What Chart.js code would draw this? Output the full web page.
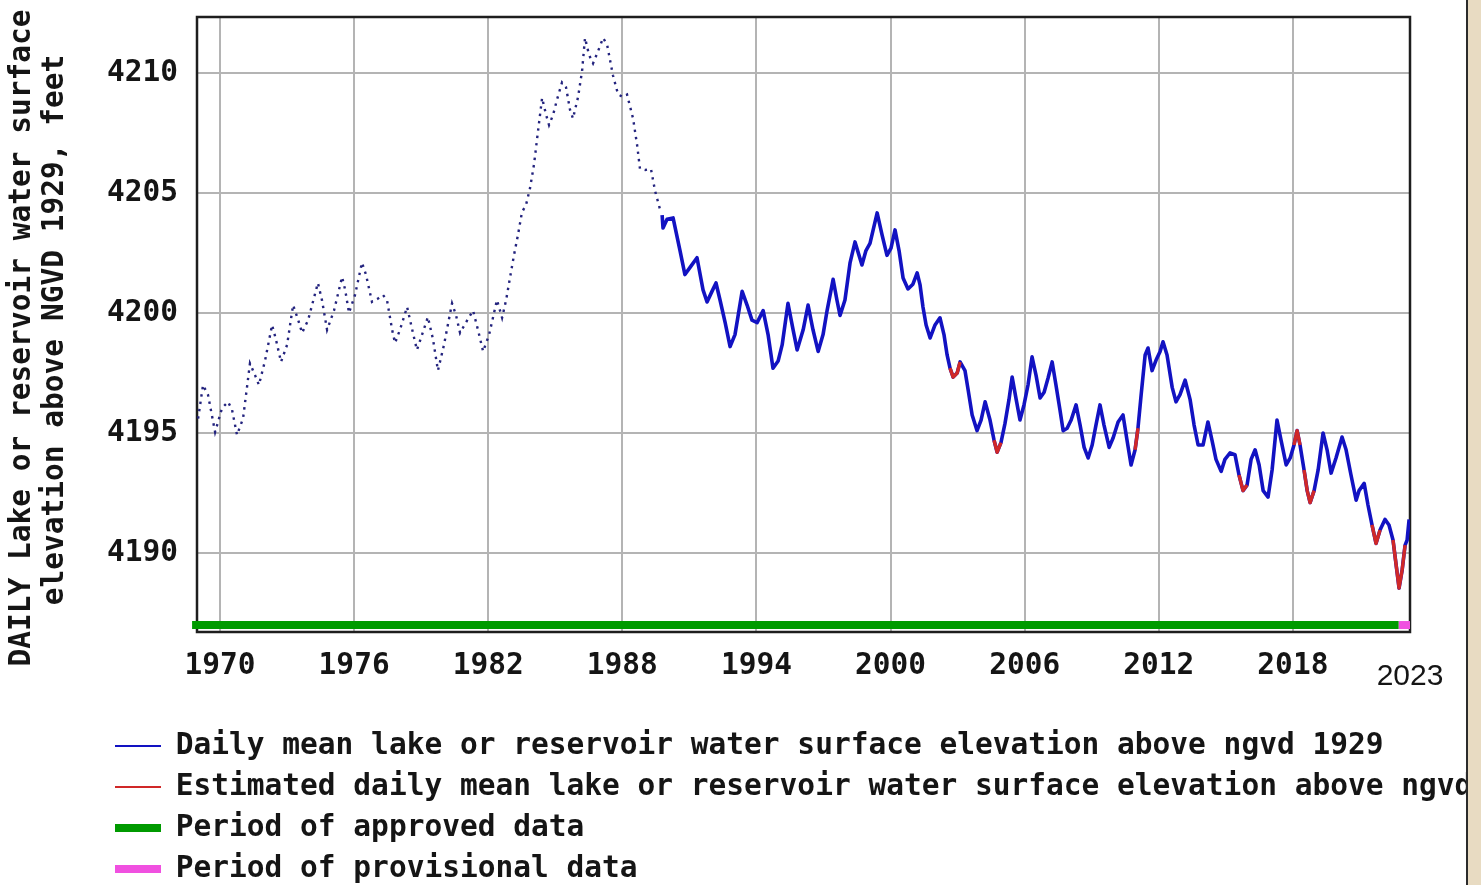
<!DOCTYPE html>
<html>
<head>
<meta charset="utf-8">
<script src="https://cdn.jsdelivr.net/npm/chart.js@4.4.1/dist/chart.umd.min.js"></script>
<style>
  html, body { margin: 0; padding: 0; background: #fff; }
  #wrap { position: relative; width: 1481px; height: 885px; }
  #edge { position: absolute; left: 1466px; top: 0; width: 15px; height: 885px;
          background: #e8dbc2; border-left: 2px solid #2b2b2b; box-sizing: border-box; }
</style>
</head>
<body>
<div id="wrap"><canvas id="chart"></canvas><div id="edge"></div></div>
<script>
const mono = '"DejaVu Sans Mono", "Liberation Mono", monospace';

// early record (sparse readings, drawn dotted)
const dotYears = [1969.02, 1969.24, 1969.46, 1969.78, 1970.09, 1970.36, 1970.54, 1970.76, 1971.03, 1971.34,
  1971.57, 1971.74, 1972.01, 1972.33, 1972.5, 1972.73, 1973.0, 1973.27, 1973.5, 1973.67,
  1973.94, 1974.38, 1974.56, 1974.79, 1975.1, 1975.46, 1975.6, 1975.77, 1976.04, 1976.35,
  1976.53, 1976.8, 1977.07, 1977.29, 1977.47, 1977.7, 1977.83, 1978.05, 1978.37, 1978.6,
  1978.81, 1979.04, 1979.3, 1979.53, 1979.75, 1980.02, 1980.38, 1980.56, 1980.74, 1981.0,
  1981.32, 1981.54, 1981.77, 1982.04, 1982.39, 1982.62, 1982.8, 1982.98, 1983.15, 1983.33,
  1983.51, 1983.69, 1983.87, 1984.05, 1984.23, 1984.41, 1984.59, 1984.72, 1984.9, 1985.08,
  1985.3, 1985.48, 1985.66, 1985.79, 1986.02, 1986.2, 1986.33, 1986.51, 1986.69, 1986.91,
  1987.14, 1987.32, 1987.58, 1987.81, 1988.03, 1988.21, 1988.48, 1988.66, 1988.79, 1989.02,
  1989.28, 1989.46, 1989.69];
const dotLevels = [4195.6, 4197.0, 4196.6, 4195.04, 4196.04, 4196.3, 4195.96, 4194.92, 4195.6, 4197.9,
  4197.4, 4197.0, 4198.0, 4199.5, 4198.9, 4197.96, 4198.67, 4200.33, 4199.7, 4199.17,
  4199.7, 4201.25, 4200.54, 4199.3, 4200.1, 4201.5, 4200.96, 4200.0, 4200.75, 4202.1,
  4201.6, 4200.46, 4200.6, 4200.75, 4200.54, 4199.3, 4198.75, 4199.3, 4200.25, 4199.3,
  4198.46, 4199.1, 4199.83, 4198.9, 4197.6, 4198.67, 4200.4, 4199.9, 4199.17, 4199.6,
  4200.1, 4199.3, 4198.4, 4199.1, 4200.54, 4199.8, 4200.54, 4201.5, 4202.4, 4203.25,
  4204.2, 4204.5, 4205.2, 4206.2, 4207.6, 4208.96, 4208.25, 4207.83, 4208.25, 4208.9,
  4209.6, 4209.4, 4208.46, 4208.1, 4209.0, 4210.1, 4211.46, 4210.75, 4210.4, 4210.9,
  4211.46, 4211.17, 4209.9, 4209.1, 4209.0, 4209.1, 4208.1, 4207.0, 4206.0, 4205.96,
  4206.0, 4205.1, 4204.3];

// daily mean record
const dailyYears = [1989.78, 1989.82, 1990.0, 1990.27, 1990.58, 1990.8, 1991.03, 1991.34, 1991.61, 1991.79,
  1992.01, 1992.19, 1992.37, 1992.6, 1992.82, 1993.04, 1993.36, 1993.58, 1993.8, 1994.03,
  1994.3, 1994.52, 1994.74, 1994.97, 1995.15, 1995.41, 1995.64, 1995.82, 1996.09, 1996.31,
  1996.53, 1996.76, 1996.98, 1997.16, 1997.43, 1997.6, 1997.74, 1997.96, 1998.19, 1998.41,
  1998.59, 1998.72, 1998.9, 1999.08, 1999.4, 1999.62, 1999.84, 2000.02, 2000.2, 2000.38,
  2000.56, 2000.78, 2001.0, 2001.19, 2001.32, 2001.45, 2001.59, 2001.77, 2001.99, 2002.21,
  2002.39, 2002.53, 2002.66, 2002.8, 2002.98, 2003.11, 2003.33, 2003.47, 2003.65, 2003.87,
  2004.05, 2004.23, 2004.45, 2004.63, 2004.77, 2004.94, 2005.12, 2005.3, 2005.44, 2005.62,
  2005.79, 2005.97, 2006.15, 2006.33, 2006.51, 2006.69, 2006.87, 2007.05, 2007.23, 2007.4,
  2007.58, 2007.72, 2007.9, 2008.08, 2008.3, 2008.48, 2008.66, 2008.84, 2009.02, 2009.19,
  2009.37, 2009.55, 2009.78, 2009.96, 2010.18, 2010.4, 2010.58, 2010.76, 2010.94, 2011.07,
  2011.21, 2011.39, 2011.52, 2011.7, 2011.88, 2012.06, 2012.19, 2012.37, 2012.6, 2012.77,
  2012.95, 2013.18, 2013.4, 2013.58, 2013.76, 2013.98, 2014.2, 2014.38, 2014.56, 2014.79,
  2014.96, 2015.19, 2015.41, 2015.59, 2015.77, 2015.95, 2016.13, 2016.31, 2016.49, 2016.67,
  2016.89, 2017.07, 2017.29, 2017.47, 2017.7, 2017.88, 2018.05, 2018.19, 2018.32, 2018.5,
  2018.64, 2018.77, 2018.95, 2019.13, 2019.35, 2019.53, 2019.71, 2019.93, 2020.2, 2020.38,
  2020.6, 2020.83, 2020.96, 2021.19, 2021.36, 2021.54, 2021.72, 2021.9, 2022.12, 2022.3,
  2022.48, 2022.62, 2022.75, 2022.89, 2023.02, 2023.11, 2023.2];
const dailyLevels = [4204.08, 4203.54, 4203.9, 4203.96, 4202.6, 4201.6, 4201.9, 4202.3, 4200.96, 4200.46,
  4200.9, 4201.25, 4200.54, 4199.6, 4198.6, 4199.1, 4200.9, 4200.33, 4199.7, 4199.6,
  4200.1, 4199.1, 4197.7, 4198.0, 4198.67, 4200.4, 4199.3, 4198.46, 4199.3, 4200.33,
  4199.3, 4198.4, 4199.1, 4200.1, 4201.4, 4200.54, 4199.9, 4200.54, 4202.1, 4202.96,
  4202.4, 4202.0, 4202.6, 4202.9, 4204.17, 4203.25, 4202.4, 4202.7, 4203.46, 4202.6,
  4201.46, 4201.0, 4201.2, 4201.67, 4201.17, 4200.25, 4199.5, 4198.96, 4199.5, 4199.8,
  4199.1, 4198.25, 4197.7, 4197.33, 4197.5, 4197.96, 4197.6, 4196.8, 4195.75, 4195.1,
  4195.54, 4196.3, 4195.54, 4194.7, 4194.2, 4194.6, 4195.4, 4196.4, 4197.33, 4196.4,
  4195.54, 4196.17, 4197.0, 4198.17, 4197.4, 4196.46, 4196.7, 4197.3, 4197.96, 4197.0,
  4195.96, 4195.1, 4195.2, 4195.54, 4196.17, 4195.33, 4194.4, 4193.96, 4194.5, 4195.33,
  4196.17, 4195.33, 4194.4, 4194.8, 4195.46, 4195.75, 4194.7, 4193.67, 4194.3, 4195.2,
  4196.58, 4198.25, 4198.54, 4197.6, 4198.04, 4198.4, 4198.8, 4198.25, 4196.9, 4196.3,
  4196.6, 4197.2, 4196.4, 4195.33, 4194.5, 4194.5, 4195.46, 4194.7, 4193.9, 4193.4,
  4193.9, 4194.17, 4194.1, 4193.25, 4192.6, 4192.83, 4193.9, 4194.3, 4193.67, 4192.6,
  4192.33, 4193.46, 4195.54, 4194.7, 4193.67, 4193.96, 4194.5, 4195.1, 4194.5, 4193.46,
  4192.6, 4192.1, 4192.6, 4193.46, 4195.0, 4194.3, 4193.33, 4193.96, 4194.83, 4194.3,
  4193.25, 4192.2, 4192.6, 4192.9, 4192.0, 4191.17, 4190.4, 4190.96, 4191.4, 4191.17,
  4190.54, 4189.5, 4188.54, 4189.3, 4190.33, 4190.54, 4191.4];

// estimated stretches (null = break)
const estYears = [2002.66, 2002.8, 2002.98, 2003.11, null,
  2004.63, 2004.77, 2004.94, null,
  2010.94, 2011.07, null,
  2015.59, 2015.77, 2015.95, null,
  2018.05, 2018.19, 2018.32, null,
  2018.5, 2018.64, 2018.77, 2018.95, null,
  2021.54, 2021.72, 2021.9, null,
  2022.48, 2022.62, 2022.75, 2022.89, 2023.02];
const estLevels = [4197.7, 4197.33, 4197.5, 4197.96, null,
  4194.7, 4194.2, 4194.6, null,
  4194.3, 4195.2, null,
  4193.25, 4192.6, 4192.83, null,
  4194.5, 4195.1, 4194.5, null,
  4193.46, 4192.6, 4192.1, 4192.6, null,
  4191.17, 4190.4, 4190.96, null,
  4190.54, 4189.5, 4188.54, 4189.3, 4190.33];

// data-status bar along the bottom
const approvedYears = [1968.75, 2022.73];
const provisionalYears = [2022.73, 2023.24];
const statusLevel = 4187.0;

const xTickYears = [1970, 1976, 1982, 1988, 1994, 2000, 2006, 2012, 2018];
const endYearLabel = '2023';
const yTickValues = [4190, 4195, 4200, 4205, 4210];
const yTitleLines = ['DAILY Lake or reservoir water surface', 'elevation above NGVD 1929, feet'];
const seriesLabels = [
  'Daily mean lake or reservoir water surface elevation above ngvd 1929',
  'Estimated daily mean lake or reservoir water surface elevation above ngvd 1929',
  'Period of approved data',
  'Period of provisional data'
];

const pts = (xs, ys) => xs.map((x, i) => ({ x: x === null ? xs[i - 1] : x, y: ys[i] }));

const plotFrame = {
  id: 'plotFrame',
  beforeDatasetsDraw(chart) {
    const { ctx, chartArea: a } = chart;
    ctx.save();
    ctx.strokeStyle = '#1e1e1e';
    ctx.lineWidth = 2.5;
    ctx.strokeRect(a.left, a.top, a.right - a.left, a.bottom - a.top);
    ctx.restore();
  }
};

const yTitle = {
  id: 'yTitle',
  afterDraw(chart) {
    const ctx = chart.ctx;
    ctx.save();
    ctx.translate(22, 338);
    ctx.rotate(-Math.PI / 2);
    ctx.font = 'bold 29.5px ' + mono;
    ctx.fillStyle = '#151515';
    ctx.textAlign = 'center';
    ctx.textBaseline = 'middle';
    ctx.fillText(yTitleLines[0], 0, 0);
    ctx.fillText(yTitleLines[1], 8, 33);
    ctx.restore();
  }
};

// put the legend block under the axis, starting at the left like the original
const legendPlace = {
  id: 'legendPlace',
  afterLayout(chart) {
    const lg = chart.legend;
    if (!lg) return;
    lg.left = 103.5; lg.top = 719.75; lg.right = 1481; lg.bottom = 2000;
    lg.width = lg.right - lg.left; lg.height = lg.bottom - lg.top;
  }
};

new Chart(document.getElementById('chart'), {
  type: 'line',
  data: {
    datasets: [
      { label: 'early', data: pts(dotYears, dotLevels), borderColor: '#23237e', borderWidth: 2.4,
        borderDash: [2.4, 5], pointRadius: 0, order: 1 },
      { label: seriesLabels[0], data: pts(dailyYears, dailyLevels), borderColor: '#1212c2', borderWidth: 3.6,
        borderJoinStyle: 'round', pointRadius: 0, order: 1 },
      { label: seriesLabels[1], data: pts(estYears, estLevels), borderColor: '#d02828', borderWidth: 3.4,
        borderJoinStyle: 'round', pointRadius: 0, spanGaps: false, order: 0 },
      { label: seriesLabels[2], data: approvedYears.map(x => ({ x, y: statusLevel })), borderColor: '#009a00',
        borderWidth: 8, pointRadius: 0, clip: false, order: 1 },
      { label: seriesLabels[3], data: provisionalYears.map(x => ({ x, y: statusLevel })), borderColor: '#f050e0',
        borderWidth: 8, pointRadius: 0, clip: false, order: 1 }
    ]
  },
  options: {
    responsive: true,
    maintainAspectRatio: false,
    animation: false,
    events: [],
    layout: { padding: { top: 17, right: 71, bottom: 193, left: 0 } },
    scales: {
      x: {
        type: 'linear',
        min: 1968.97,
        max: 2023.24,
        afterBuildTicks: s => { s.ticks = xTickYears.concat([s.max]).map(v => ({ value: v })); },
        afterFit: s => { s.height = 60; },
        grid: {
          color: c => (c.tick && c.tick.value > 2020 ? 'rgba(0,0,0,0)' : '#b4b4b4'),
          lineWidth: 2,
          drawTicks: true,
          tickLength: 17,
          tickColor: 'rgba(0,0,0,0)'
        },
        border: { display: false },
        ticks: {
          autoSkip: false,
          maxRotation: 0,
          padding: 0,
          color: '#151515',
          callback: v => (v > 2020 ? endYearLabel : String(v)),
          font: c => (c.tick && c.tick.value > 2020
            ? { family: '"Liberation Sans", Arial, sans-serif', size: 30, weight: 'normal', lineHeight: 1.87 }
            : { family: mono, size: 29.5, weight: 'bold', lineHeight: 1.2 })
        }
      },
      y: {
        min: 4186.71,
        max: 4212.33,
        afterBuildTicks: s => { s.ticks = yTickValues.map(v => ({ value: v })); },
        afterFit: s => { s.width = 197; },
        grid: { color: '#b4b4b4', lineWidth: 2, drawTicks: true, tickLength: 19, tickColor: 'rgba(0,0,0,0)' },
        border: { display: false },
        ticks: {
          padding: 0,
          color: '#151515',
          callback: v => String(v),
          font: { family: mono, size: 29.5, weight: 'bold', lineHeight: 1.1 }
        }
      }
    },
    plugins: {
      tooltip: { enabled: false },
      legend: {
        position: 'chartArea',
        align: 'start',
        labels: {
          usePointStyle: true,
          pointStyleWidth: 46,
          padding: 11.5,
          color: '#151515',
          font: { family: mono, size: 29.5, weight: 'bold' },
          generateLabels: chart => chart.data.datasets.slice(1).map((ds, i) => ({
            text: ds.label,
            datasetIndex: i + 1,
            strokeStyle: ds.borderColor,
            fillStyle: ds.borderColor,
            lineWidth: ds.borderWidth > 5 ? 8 : 2,
            pointStyle: 'line',
            hidden: false,
            fontColor: '#151515'
          }))
        }
      }
    }
  },
  plugins: [plotFrame, yTitle, legendPlace]
});
</script>
</body>
</html>
